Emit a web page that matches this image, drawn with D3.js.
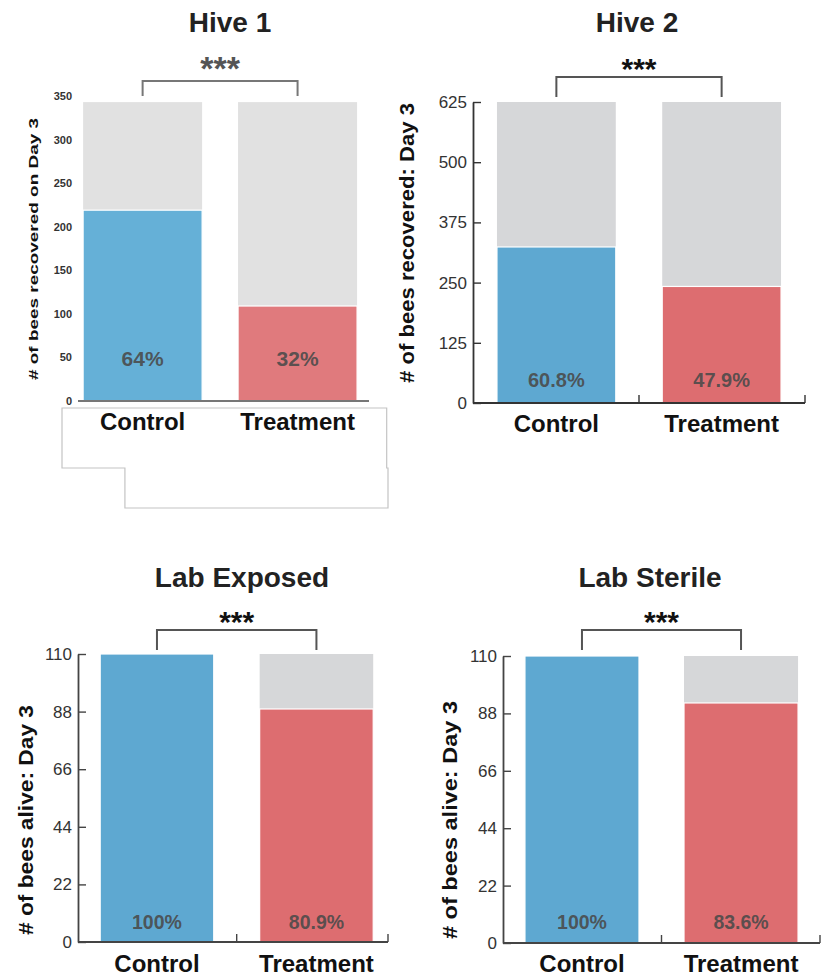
<!DOCTYPE html>
<html>
<head>
<meta charset="utf-8">
<script src="https://cdn.jsdelivr.net/npm/d3@7"></script>
<style>
  html, body { margin: 0; padding: 0; background: #fff; }
  svg { display: block; font-family: "Liberation Sans", Arial, Helvetica, sans-serif; }
</style>
</head>
<body>
<svg id="chart" width="828" height="976"></svg>
<script>
// ---- data ----
const panelTitles = ["Hive 1", "Hive 2", "Lab Exposed", "Lab Sterile"];
const categories = ["Control", "Treatment"];
const yAxisTitles = [
  "# of bees recovered on Day 3",
  "# of bees recovered: Day 3",
  "# of bees alive: Day 3",
  "# of bees alive: Day 3"
];
// total bees per group (grey bar height)
const totalBees = [[343, 343], [625, 625], [110, 110], [110, 110]];
// bees recovered / alive on day 3 (coloured bar height)
const aliveBees = [[219, 109], [324, 242], [110, 89], [110, 92]];
// survival percentage printed on each bar
const survivalPct = [[64, 32], [60.8, 47.9], [100, 80.9], [100, 83.6]];
const yMax = [350, 625, 110, 110];
const yTickValues = [
  [0, 50, 100, 150, 200, 250, 300, 350],
  [0, 125, 250, 375, 500, 625],
  [0, 22, 44, 66, 88, 110],
  [0, 22, 44, 66, 88, 110]
];
const significance = ["***", "***", "***", "***"];

// ---- layout & style per panel ----
const layout = [
  { x0: 78, x1: 369, y0: 401, y1: 96, pi: 0.232, po: 0.055, align: 0.3,
    titleX: 230, titleY: 32, brTop: 81, brBot: 96, starY: 80, starColor: "#555",
    catY: 430, ytX: 35, ytY: 249, ytSize: 13, ytLen: 262,
    pctY: 366, pctSize: 21,
    grey: "#e1e1e1", blue: "#65b0d7", red: "#e07a7d",
    yAxisLine: false, tickFont: 11, tickBold: true, tickLen: 0, tickPad: 6,
    baseColor: "#777", baseTicks: false, frame: true },
  { x0: 473, x1: 805, y0: 403, y1: 102, pi: 0.281, po: 0.145, align: 0.5,
    titleX: 637, titleY: 32, brTop: 77, brBot: 97, starY: 79, starColor: "#111",
    catY: 432, ytX: 408, ytY: 243, ytSize: 21, ytLen: 280,
    pctY: 387, pctSize: 20,
    grey: "#d6d7d9", blue: "#5ea8d1", red: "#dd6d70",
    yAxisLine: true, tickFont: 17, tickBold: false, tickLen: 8, tickPad: 6,
    baseColor: "#333", baseTicks: true, frame: false },
  { x0: 78, x1: 388, y0: 942, y1: 654, pi: 0.288, po: 0.116, align: 0.6,
    titleX: 242, titleY: 587, brTop: 630, brBot: 650, starY: 632, starColor: "#111",
    catY: 972, ytX: 27, ytY: 820, ytSize: 21, ytLen: 230,
    pctY: 929, pctSize: 19.5,
    grey: "#d6d7d9", blue: "#5ea8d1", red: "#dd6d70",
    yAxisLine: true, tickFont: 17, tickBold: false, tickLen: 8, tickPad: 6,
    baseColor: "#444", baseTicks: true, frame: false },
  { x0: 503, x1: 820, y0: 943, y1: 656, pi: 0.283, po: 0.138, align: 0.5,
    titleX: 650, titleY: 587, brTop: 630, brBot: 650, starY: 632, starColor: "#111",
    catY: 972, ytX: 451, ytY: 820, ytSize: 21, ytLen: 238,
    pctY: 929, pctSize: 19.5,
    grey: "#d6d7d9", blue: "#5ea8d1", red: "#dd6d70",
    yAxisLine: true, tickFont: 17, tickBold: false, tickLen: 8, tickPad: 6,
    baseColor: "#444", baseTicks: true, frame: false }
];

const svg = d3.select("#chart");

panelTitles.forEach((title, p) => {
  const L = layout[p];
  const g = svg.append("g").attr("class", "panel");

  const x = d3.scaleBand().domain(categories).range([L.x0, L.x1])
    .paddingInner(L.pi).paddingOuter(L.po).align(L.align);
  const y = d3.scaleLinear().domain([0, yMax[p]]).range([L.y0, L.y1]);

  const rows = categories.map((c, i) => ({
    cat: c, total: totalBees[p][i], alive: aliveBees[p][i],
    pct: survivalPct[p][i], color: i === 0 ? L.blue : L.red
  }));

  // grey remainder (total minus alive)
  g.selectAll("rect.rest").data(rows.filter(d => d.total > d.alive)).join("rect")
    .attr("class", "rest")
    .attr("x", d => x(d.cat)).attr("width", x.bandwidth())
    .attr("y", d => y(d.total))
    .attr("height", d => y(d.alive) - y(d.total))
    .attr("fill", L.grey);

  // coloured part (alive / recovered)
  g.selectAll("rect.alive").data(rows).join("rect")
    .attr("class", "alive")
    .attr("x", d => x(d.cat)).attr("width", x.bandwidth())
    .attr("y", d => y(d.alive))
    .attr("height", d => y(0) - y(d.alive))
    .attr("fill", d => d.color)
    .attr("stroke", "#fff").attr("stroke-width", 1.2);

  // percentage labels
  g.selectAll("text.pct").data(rows).join("text")
    .attr("class", "pct")
    .attr("x", d => x(d.cat) + x.bandwidth() / 2)
    .attr("y", L.pctY)
    .attr("text-anchor", "middle")
    .attr("font-size", L.pctSize)
    .attr("font-weight", "bold")
    .attr("fill", "#4a4a4a")
    .attr("fill-opacity", 0.9)
    .text(d => `${d.pct}%`);

  // y axis
  const yAxis = d3.axisLeft(y).tickValues(yTickValues[p])
    .tickSize(-L.tickLen).tickSizeOuter(0).tickPadding(L.tickPad)
    .tickFormat(d3.format("d"));
  const ya = g.append("g").attr("transform", `translate(${L.x0},0)`).call(yAxis);
  ya.select(".domain").attr("stroke", L.yAxisLine ? L.baseColor : "none").attr("stroke-width", 1.8);
  ya.selectAll(".tick line").attr("stroke", L.baseColor).attr("stroke-width", 1.4);
  ya.selectAll(".tick text")
    .attr("font-size", L.tickFont)
    .attr("font-weight", L.tickBold ? "bold" : "normal")
    .attr("font-family", "'Liberation Sans', Arial, sans-serif")
    .attr("fill", "#333");

  // x baseline with upward ticks at band boundaries
  g.append("line")
    .attr("x1", L.x0).attr("x2", L.x1)
    .attr("y1", y(0)).attr("y2", y(0))
    .attr("stroke", L.baseColor).attr("stroke-width", 1.8);
  if (L.baseTicks) {
    const mid = (x(categories[0]) + x.bandwidth() + x(categories[1])) / 2;
    g.selectAll("line.xt").data([mid, L.x1]).join("line")
      .attr("class", "xt")
      .attr("x1", d => d).attr("x2", d => d)
      .attr("y1", y(0)).attr("y2", y(0) - 8)
      .attr("stroke", L.baseColor).attr("stroke-width", 1.4);
  }

  // category labels
  g.selectAll("text.cat").data(categories).join("text")
    .attr("class", "cat")
    .attr("x", d => x(d) + x.bandwidth() / 2)
    .attr("y", L.catY)
    .attr("text-anchor", "middle")
    .attr("font-size", 24).attr("font-weight", "bold")
    .attr("fill", "#111")
    .text(d => d);

  // y axis title
  g.append("text")
    .attr("transform", `translate(${L.ytX},${L.ytY}) rotate(-90)`)
    .attr("text-anchor", "middle")
    .attr("dominant-baseline", "middle")
    .attr("font-size", L.ytSize).attr("font-weight", "bold")
    .attr("fill", "#111")
    .attr("textLength", L.ytLen).attr("lengthAdjust", "spacingAndGlyphs")
    .text(yAxisTitles[p]);

  // panel title
  g.append("text")
    .attr("x", L.titleX).attr("y", L.titleY)
    .attr("text-anchor", "middle")
    .attr("font-size", 28).attr("font-weight", "bold")
    .attr("fill", "#222")
    .text(title);

  // significance bracket
  const cx0 = x(categories[0]) + x.bandwidth() / 2;
  const cx1 = x(categories[1]) + x.bandwidth() / 2;
  g.append("path")
    .attr("d", `M${cx0},${L.brBot}V${L.brTop}H${cx1}V${L.brBot}`)
    .attr("fill", "none").attr("stroke", p === 0 ? "#777" : "#555")
    .attr("stroke-width", 2);
  g.append("text")
    .attr("x", (cx0 + cx1) / 2).attr("y", L.starY)
    .attr("text-anchor", "middle")
    .attr("font-size", p === 0 ? 34 : 30).attr("font-weight", "bold")
    .attr("fill", L.starColor)
    .text(significance[p]);

  // outlined frame under the first panel's category labels
  if (L.frame) {
    const fx = d3.scaleLinear().domain([0, 1]).range([L.x0 - 16, L.x1 + 19]);
    const outline = d3.path();
    outline.moveTo(fx(0), 408);
    outline.lineTo(fx(0.996), 408);
    outline.lineTo(fx(0.996), 468);
    outline.lineTo(fx(1), 468);
    outline.lineTo(fx(1), 508);
    outline.lineTo(fx(0.193), 508);
    outline.lineTo(fx(0.193), 468);
    outline.lineTo(fx(0), 468);
    outline.closePath();
    g.append("path").attr("d", outline.toString())
      .attr("fill", "none").attr("stroke", "#c4c4c4").attr("stroke-width", 1.2);
  }
});
</script>
</body>
</html>
